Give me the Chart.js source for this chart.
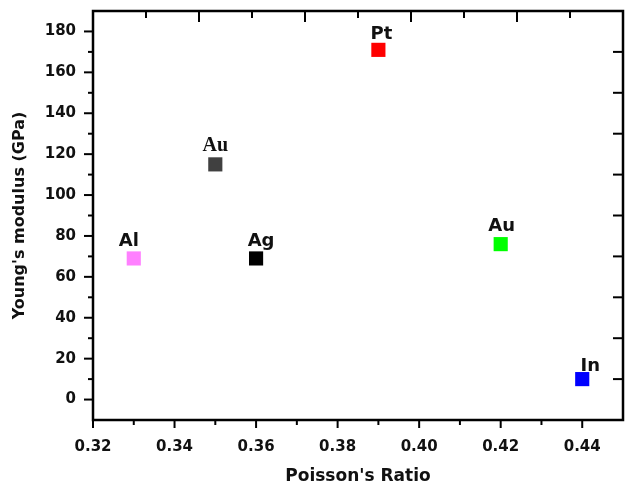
<!DOCTYPE html>
<html>
<head>
<meta charset="utf-8">
<script src="https://cdn.jsdelivr.net/npm/chart.js@4"></script>
<style>
  html, body { margin: 0; padding: 0; background: #fff; }
  #wrap { width: 625px; height: 488px; }
</style>
</head>
<body>
<div id="wrap"><canvas id="chart" width="625" height="488"></canvas></div>
<script>
// metals: Poisson's ratio vs Young's modulus
const metals = ['Al', 'Au', 'Ag', 'Pt', 'Au', 'In'];
const poisson = [0.33, 0.35, 0.36, 0.39, 0.42, 0.44];
const youngs = [69, 115, 69, 171, 76, 10];
const colors = ['#ff80ff', '#404040', '#000000', '#ff0000', '#00ff00', '#0000ff'];

const xTicks = [0.32, 0.34, 0.36, 0.38, 0.40, 0.42, 0.44];
const xMinor = [0.33, 0.35, 0.37, 0.39, 0.41, 0.43];
const yTicks = [0, 20, 40, 60, 80, 100, 120, 140, 160, 180];
const yMinor = [10, 30, 50, 70, 90, 110, 130, 150, 170];
const rightTicks = [10, 30, 50, 70, 90, 110, 130, 150, 170];
const topTicks = [1, 2, 3, 4, 5, 6, 7, 8, 9];

const ink = '#111';
const wide = '"DejaVu Sans", Verdana, sans-serif';

// how each point name is drawn (offsets from the marker centre)
const labelStyle = [
  { font: 'bold 18px ' + wide, dx: -5, dy: -12 },
  { font: 'bold 20px "Liberation Serif", "Times New Roman", serif', dx: 0, dy: -13 },
  { font: 'bold 18px ' + wide, dx: 5, dy: -12 },
  { font: 'bold 18px ' + wide, dx: 3, dy: -11 },
  { font: 'bold 18px ' + wide, dx: 1, dy: -13 },
  { font: 'bold 18px ' + wide, dx: 8, dy: -8 }
];

// fixed box sizes so the plot area lands where it should
const fitBox = size => s => {
  if (s.isHorizontal()) s.height = size; else s.width = size;
  s.paddingTop = s.paddingBottom = s.paddingLeft = s.paddingRight = 0;
};

const frame = {
  id: 'frame',
  afterDraw(chart) {
    const { ctx, chartArea: a, scales } = chart;
    const x = scales.x, y = scales.y, top = scales.x2;
    ctx.save();
    ctx.strokeStyle = '#000';
    ctx.lineWidth = 2.5;
    ctx.strokeRect(a.left, a.top, a.right - a.left, a.bottom - a.top);
    const line = (x1, y1, x2, y2) => {
      ctx.beginPath(); ctx.moveTo(x1, y1); ctx.lineTo(x2, y2); ctx.stroke();
    };
    ctx.lineWidth = 2;
    // bottom axis, ticks pointing out
    xTicks.forEach(v => { const p = x.getPixelForValue(v); line(p, a.bottom, p, a.bottom + 8); });
    xMinor.forEach(v => { const p = x.getPixelForValue(v); line(p, a.bottom, p, a.bottom + 5); });
    // left axis, ticks pointing out
    yTicks.forEach(v => { const p = y.getPixelForValue(v); line(a.left, p, a.left - 9, p); });
    yMinor.forEach(v => { const p = y.getPixelForValue(v); line(a.left, p, a.left - 5, p); });
    // top axis, ticks pointing in
    topTicks.forEach(v => {
      const p = top.getPixelForValue(v);
      line(p, a.top, p, a.top + (v % 2 === 0 ? 11 : 7));
    });
    // right axis, ticks pointing in
    rightTicks.forEach(v => { const p = y.getPixelForValue(v); line(a.right, p, a.right - 10, p); });
    ctx.restore();
  }
};

const pointNames = {
  id: 'pointNames',
  afterDatasetsDraw(chart) {
    const { ctx } = chart;
    const pts = chart.getDatasetMeta(0).data;
    ctx.save();
    ctx.fillStyle = ink;
    ctx.textAlign = 'center';
    ctx.textBaseline = 'alphabetic';
    pts.forEach((pt, i) => {
      const s = labelStyle[i];
      ctx.font = s.font;
      ctx.fillText(metals[i], pt.x + s.dx, pt.y + s.dy);
    });
    ctx.restore();
  }
};

const tickFont = { family: wide, size: 15, weight: 'bold' };

new Chart(document.getElementById('chart').getContext('2d'), {
  type: 'scatter',
  data: {
    datasets: [{
      data: poisson.map((p, i) => ({ x: p, y: youngs[i] })),
      pointStyle: 'rect',
      pointRadius: 10,
      pointBorderWidth: 0,
      pointBackgroundColor: colors,
      pointBorderColor: colors
    }]
  },
  options: {
    responsive: false,
    animation: false,
    layout: { padding: 0, autoPadding: false },
    plugins: { legend: { display: false }, tooltip: { enabled: false } },
    scales: {
      x: {
        type: 'linear', position: 'bottom', min: 0.32, max: 0.45,
        afterBuildTicks: s => { s.ticks = xTicks.map(v => ({ value: v })); },
        afterFit: fitBox(68),
        grid: { display: false, drawTicks: false },
        border: { display: false },
        ticks: { padding: 18, font: tickFont, color: ink, maxRotation: 0, autoSkip: false,
                 callback: v => v.toFixed(2) },
        title: { display: true, text: "Poisson's Ratio", color: ink,
                 font: { family: wide, size: 17, weight: 'bold' }, padding: { top: 0, bottom: 1 } }
      },
      y: {
        type: 'linear', position: 'left', min: -10, max: 190,
        afterBuildTicks: s => { s.ticks = yTicks.map(v => ({ value: v })); },
        afterFit: fitBox(93),
        grid: { display: false, drawTicks: false },
        border: { display: false },
        ticks: { padding: 17, font: tickFont, color: ink, autoSkip: false },
        title: { display: true, text: "Young's modulus (GPa)", color: ink,
                 font: { family: wide, size: 16, weight: 'bold' }, padding: { top: 10, bottom: 0 } }
      },
      x2: {
        type: 'linear', position: 'top', min: 0, max: 10,
        afterFit: fitBox(11),
        grid: { display: false, drawTicks: false },
        border: { display: false },
        ticks: { display: false }
      },
      y2: {
        type: 'linear', position: 'right', min: -10, max: 190,
        afterFit: fitBox(2),
        grid: { display: false, drawTicks: false },
        border: { display: false },
        ticks: { display: false }
      }
    }
  },
  plugins: [frame, pointNames]
});
</script>
</body>
</html>
